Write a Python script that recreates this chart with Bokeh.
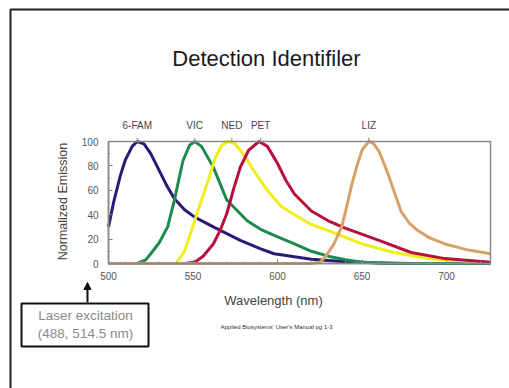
import math
from bokeh.plotting import figure
from bokeh.models import (Label, BoxAnnotation, Arrow, NormalHead, FixedTicker, PolyAnnotation,
                          LinearAxis, Range1d)
from bokeh.embed import file_html
from bokeh.resources import INLINE

# ---- data ----
fam_x = [500, 503, 507, 510, 514, 517, 521, 525, 529, 534, 539, 545, 551, 562, 578, 590, 598, 610, 620, 630, 640, 650, 660, 680, 700, 726]
fam_y = [30, 50, 72, 85, 96, 100, 98, 90, 79, 65, 53, 44, 38, 30, 19, 12, 8, 5.5, 3.5, 2.5, 1.5, 1, 0.5, 0, 0, 0]

vic_x = [500, 510, 517, 522, 525, 530, 535, 539, 544, 548, 551, 555, 562, 570, 582, 590, 598, 610, 620, 630, 640, 650, 670, 700, 726]
vic_y = [0, 0, 0, 3, 8, 17, 30, 52, 84, 97, 100, 96, 79, 52, 35, 28, 23, 16, 10, 6, 3, 1, 0, 0, 0]

ned_x = [500, 530, 540, 545, 550, 555, 559, 563, 567, 571, 575, 580, 586, 594, 602, 610, 620, 630, 650, 669, 689, 709, 726]
ned_y = [0, 0, 0, 10, 31, 52, 68, 86, 97, 100, 98, 89, 76, 60, 47, 40, 32, 27, 16, 9, 4, 2, 1]

pet_x = [500, 545, 551, 556, 562, 566, 570, 574, 578, 583, 589, 594, 600, 605, 610, 620, 630, 640, 660, 679, 699, 726]
pet_y = [0, 0, 1, 6, 16, 27, 41, 61, 79, 93, 100, 96, 82, 68, 57, 43, 35, 29, 19, 9, 4, 1]

liz_x = [500, 610, 620, 625, 628, 633, 638, 641, 644, 647, 650, 654, 657, 660, 663, 666, 670, 673, 678, 683, 690, 699, 713, 726]
liz_y = [0, 0, 0, 1, 5, 15, 30, 47, 65, 80, 93, 100, 98, 92, 82, 71, 55, 43, 33, 27, 21, 16, 11, 8]

dye_names = ["6-FAM", "VIC", "NED", "PET", "LIZ"]
dye_peaks = [517, 551, 573, 590, 654]
dye_colors = ["#2a1a78", "#1f8a50", "#f0ee1a", "#b8103a", "#d9a06a"]

x_ticks = [500, 550, 600, 650, 700]
y_ticks = [0, 20, 40, 60, 80, 100]
x_min, x_max = 500, 726
y_min, y_max = 0, 100

# ---- page layout (pixels) ----
W, H = 509, 388
FL, FR, FT, FB = 108, 490, 141, 263  # edges of the plotting box on the page

kx = (FR - FL) / (x_max - x_min)
ky = (FB - FT) / (y_max - y_min)
x_range = Range1d(x_min - FL / kx, x_max + (W - FR) / kx)
y_range = Range1d(y_min - (H - FB) / ky, y_max + FT / ky)


def sx(px):
    return px


def sy(py):
    return H - py


p = figure(width=W, height=H, output_backend="svg", toolbar_location=None,
           x_range=x_range, y_range=y_range,
           x_axis_location=None, y_axis_location=None,
           min_border=0, min_border_left=0, min_border_right=0,
           min_border_top=0, min_border_bottom=0)
p.background_fill_color = "white"
p.border_fill_color = "white"
p.outline_line_color = None
p.grid.visible = False

# plotting box outline
p.add_layout(BoxAnnotation(left=x_min, right=x_max, bottom=y_min, top=y_max,
                           fill_alpha=0, line_color="#8a8a8a", line_alpha=1, line_width=1.5))

xaxis = LinearAxis(fixed_location=y_min, bounds=(x_min, x_max),
                   ticker=FixedTicker(ticks=x_ticks, minor_ticks=list(range(500, 730, 10))))
yaxis = LinearAxis(fixed_location=x_min, bounds=(y_min, y_max),
                   ticker=FixedTicker(ticks=y_ticks, minor_ticks=list(range(0, 101, 10))))
for ax in (xaxis, yaxis):
    ax.axis_line_color = "#777777"
    ax.axis_line_width = 1.5
    ax.major_tick_line_color = "#777777"
    ax.minor_tick_line_color = "#999999"
    ax.major_tick_in = 4
    ax.major_tick_out = 0
    ax.minor_tick_in = 2
    ax.minor_tick_out = 0
    ax.major_label_text_font = "Liberation Sans"
    ax.major_label_text_font_size = "10px"
    ax.major_label_text_color = "#555555"
xaxis.major_label_standoff = 8
yaxis.major_label_standoff = 10
p.add_layout(xaxis, "below")
p.add_layout(yaxis, "left")

# axis titles
p.add_layout(Label(x=sx(273), y=sy(300), x_units="screen", y_units="screen", text="Wavelength (nm)",
                   text_align="center", text_baseline="middle",
                   text_font="Liberation Sans", text_font_size="13px", text_color="#444444"))
p.add_layout(Label(x=sx(62), y=sy(201), x_units="screen", y_units="screen", text="Normalized Emission",
                   angle=math.pi / 2, text_align="center", text_baseline="middle",
                   text_font="Liberation Sans", text_font_size="12.5px", text_color="#444444"))

series = [(fam_x, fam_y), (vic_x, vic_y), (ned_x, ned_y), (pet_x, pet_y), (liz_x, liz_y)]
for (xs, ys), c in zip(series, dye_colors):
    p.line(xs, ys, line_color=c, line_width=3, line_join="round")

# dye names above the plotting box
for name, pk in zip(dye_names, dye_peaks):
    p.add_layout(Label(x=pk, y=sy(125), x_units="data", y_units="screen", text=name,
                       text_align="center", text_baseline="middle",
                       text_font="Liberation Sans", text_font_size="10px", text_color="#444444"))
    p.add_layout(Arrow(x_start=pk, x_end=pk, y_start=y_max, y_end=y_max + 3, start_units="data",
                       end_units="data", end=None, line_color="#888888", line_width=1))

# title
p.add_layout(Label(x=sx(266), y=sy(58), x_units="screen", y_units="screen", text="Detection Identifiler",
                   text_align="center", text_baseline="middle",
                   text_font="Liberation Sans", text_font_size="22px", text_color="#1a1a1a"))

# citation
p.add_layout(Label(x=sx(276), y=sy(326), x_units="screen", y_units="screen",
                   text="Applied Biosystems' User's Manual pg 1-3",
                   text_align="center", text_baseline="middle",
                   text_font="Liberation Sans", text_font_size="6px", text_color="#333333"))

# slide border (top and left)
p.add_layout(PolyAnnotation(xs=[sx(10), sx(10), sx(530), sx(530)], ys=[sy(9), sy(410), sy(410), sy(9)],
                            xs_units="screen", ys_units="screen",
                            fill_alpha=0, line_color="#222222", line_alpha=1, line_width=2))

# laser box
p.add_layout(BoxAnnotation(left=sx(21), right=sx(148), top=sy(303), bottom=sy(346),
                           left_units="screen", right_units="screen",
                           top_units="screen", bottom_units="screen",
                           fill_color="white", fill_alpha=1, line_color="#111111", line_alpha=1,
                           line_width=2))
p.add_layout(Label(x=sx(85), y=sy(315), x_units="screen", y_units="screen", text="Laser excitation",
                   text_align="center", text_baseline="middle",
                   text_font="Liberation Sans", text_font_size="13.5px", text_color="#8a8a8a"))
p.add_layout(Label(x=sx(85), y=sy(333), x_units="screen", y_units="screen", text="(488, 514.5 nm)",
                   text_align="center", text_baseline="middle",
                   text_font="Liberation Sans", text_font_size="13.5px", text_color="#8a8a8a"))
p.add_layout(Arrow(x_start=sx(87), x_end=sx(87), y_start=sy(302), y_end=sy(282), start_units="screen",
                   end_units="screen", line_color="#111111", line_width=2,
                   end=NormalHead(size=7, fill_color="#111111", line_color="#111111")))

open("out.html", "w").write(file_html(p, INLINE))
